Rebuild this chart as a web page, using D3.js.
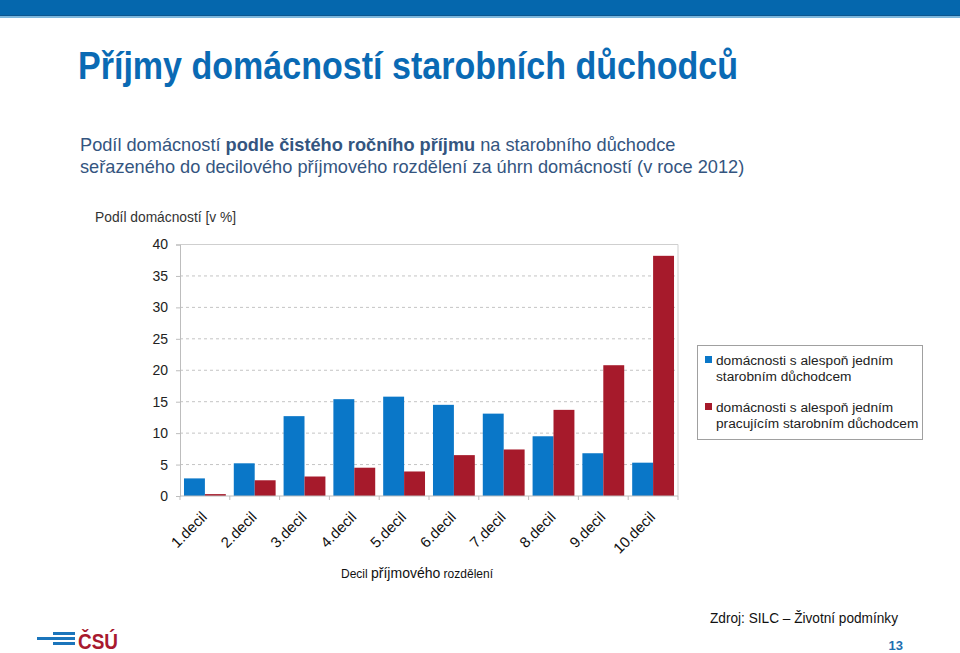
<!DOCTYPE html>
<html><head><meta charset="utf-8">
<script src="https://cdn.jsdelivr.net/npm/d3@7"></script>
<style>
html,body{margin:0;padding:0;background:#fff;}
svg{display:block;font-family:"Liberation Sans",Arial,sans-serif;}
</style></head>
<body>
<svg id="c" width="960" height="653"></svg>
<script>
const categories = ["1.decil","2.decil","3.decil","4.decil","5.decil","6.decil","7.decil","8.decil","9.decil","10.decil"];
const seriesNames = ["domácnosti s alespoň jedním|starobním důchodcem","domácnosti s alespoň jedním|pracujícím starobním důchodcem"];
const seriesColors = ["#0a77c8","#a61a2b"];
const pensioners = [2.8,5.2,12.7,15.4,15.8,14.5,13.1,9.5,6.8,5.3];
const working = [0.3,2.5,3.1,4.5,3.9,6.5,7.4,13.7,20.8,38.2];
const yTicks = [0,5,10,15,20,25,30,35,40];

(function(){
const svg = d3.select("#c");

// header banner
svg.append("rect").attr("x",0).attr("y",0).attr("width",960).attr("height",15).attr("fill","#0567ad");
svg.append("rect").attr("x",0).attr("y",15).attr("width",960).attr("height",1).attr("fill","#0b5690");
svg.append("rect").attr("x",0).attr("y",16).attr("width",960).attr("height",2).attr("fill","#7db7dd");

// title
svg.append("text").attr("x",78).attr("y",79).attr("fill","#0a6ab4")
  .attr("font-size",38).attr("font-weight","bold")
  .attr("textLength",660).attr("lengthAdjust","spacingAndGlyphs")
  .text("Příjmy domácností starobních důchodců");

// subtitle
const sub = svg.append("g").attr("fill","#34557f").attr("font-size",18.2);
const l1 = sub.append("text").attr("x",80).attr("y",151);
l1.append("tspan").text("Podíl domácností ");
l1.append("tspan").attr("font-weight","bold").text("podle čistého ročního příjmu");
l1.append("tspan").text(" na starobního důchodce");
sub.append("text").attr("x",80).attr("y",173).text("seřazeného do decilového příjmového rozdělení za úhrn domácností (v roce 2012)");

// chart
const pLeft = 180, pRight = 678, pTop = 244.5, pBottom = 496;
const x = d3.scaleBand().domain(categories).range([pLeft,pRight]).paddingInner(0.16).paddingOuter(0.08);
const xs = d3.scaleBand().domain([0,1]).range([0,x.bandwidth()]);
const y = d3.scaleLinear().domain([0,40]).range([pBottom,pTop]);

// gridlines
svg.append("g").selectAll("line").data(yTicks.filter(t=>t>0 && t<40)).join("line")
  .attr("x1",pLeft).attr("x2",pRight).attr("y1",d=>y(d)).attr("y2",d=>y(d))
  .attr("stroke","#c4c4c4").attr("stroke-dasharray","3,3");
// top and right border
svg.append("line").attr("x1",pLeft).attr("x2",pRight).attr("y1",y(40)).attr("y2",y(40)).attr("stroke","#cfcfcf");
svg.append("line").attr("x1",pRight).attr("x2",pRight).attr("y1",y(40)).attr("y2",y(0)).attr("stroke","#cfcfcf");

// y axis
const ya = svg.append("g").attr("transform",`translate(${pLeft},0)`)
  .call(d3.axisLeft(y).tickValues(yTicks).tickSize(4).tickPadding(8));
ya.select(".domain").attr("stroke","#bdbdbd");
ya.selectAll(".tick line").attr("stroke","#bdbdbd");
ya.selectAll(".tick text").attr("fill","#222").attr("font-size",14).attr("font-family","Liberation Sans, Arial, sans-serif");

// bars
const data = [pensioners, working];
data.forEach((vals,si)=>{
  svg.append("g").selectAll("rect").data(vals).join("rect")
    .attr("x",(d,i)=>x(categories[i])+xs(si))
    .attr("width",xs.bandwidth())
    .attr("y",d=>y(d))
    .attr("height",d=>y(0)-y(d))
    .attr("fill",seriesColors[si]);
});

// x axis
svg.append("line").attr("x1",pLeft).attr("x2",pRight).attr("y1",pBottom).attr("y2",pBottom).attr("stroke","#bdbdbd");
const step = x.step();
svg.append("g").selectAll("line").data(d3.range(categories.length+1)).join("line")
  .attr("x1",i=>pLeft+i*step).attr("x2",i=>pLeft+i*step)
  .attr("y1",pBottom).attr("y2",pBottom+4).attr("stroke","#bdbdbd");
svg.append("g").selectAll("text").data(categories).join("text")
  .attr("transform",d=>`translate(${x(d)+x.bandwidth()/2+3},${pBottom+22}) rotate(-45)`)
  .attr("text-anchor","end").attr("font-size",15).attr("fill","#111")
  .text(d=>d);

// axis titles
svg.append("text").attr("x",95).attr("y",222).attr("font-size",13.8).attr("fill","#333").text("Podíl domácností [v %]");
const xt = svg.append("text").attr("x",417).attr("y",578).attr("text-anchor","middle").attr("fill","#111").attr("font-size",12);
xt.append("tspan").text("Decil ");
xt.append("tspan").attr("font-size",14).text("příjmového");
xt.append("tspan").text(" rozdělení");

// legend
const lg = svg.append("g");
lg.append("rect").attr("x",697.5).attr("y",345.5).attr("width",225).attr("height",94).attr("fill","#fff").attr("stroke","#a0a0a0");
seriesNames.forEach((n,i)=>{
  const yy = 356 + i*47;
  lg.append("rect").attr("x",705).attr("y",yy).attr("width",7).attr("height",7).attr("fill",seriesColors[i]);
  const parts = n.split("|");
  parts.forEach((p,j)=>{
    lg.append("text").attr("x",716).attr("y",yy+9+j*16).attr("font-size",13.7).attr("fill","#222").text(p);
  });
});

// source & page number
svg.append("text").attr("x",710).attr("y",623).attr("font-size",14.5).attr("fill","#111")
  .attr("textLength",188).attr("lengthAdjust","spacingAndGlyphs").text("Zdroj: SILC – Životní podmínky");
svg.append("text").attr("x",903).attr("y",650).attr("text-anchor","end").attr("font-size",13).attr("font-weight","bold").attr("fill","#1f6fb0").text("13");

// logo
const logo = svg.append("g");
logo.append("rect").attr("x",37).attr("y",637).attr("width",22).attr("height",3).attr("fill","#1b75bb");
[632,637,642].forEach(yy=>logo.append("rect").attr("x",53).attr("y",yy).attr("width",22).attr("height",3).attr("fill","#1b75bb"));
logo.append("text").attr("x",78).attr("y",649).attr("font-size",22).attr("font-weight","bold").attr("fill","#a8192e")
  .attr("textLength",40).attr("lengthAdjust","spacingAndGlyphs").text("ČSÚ");
})();
</script>
</body></html>
